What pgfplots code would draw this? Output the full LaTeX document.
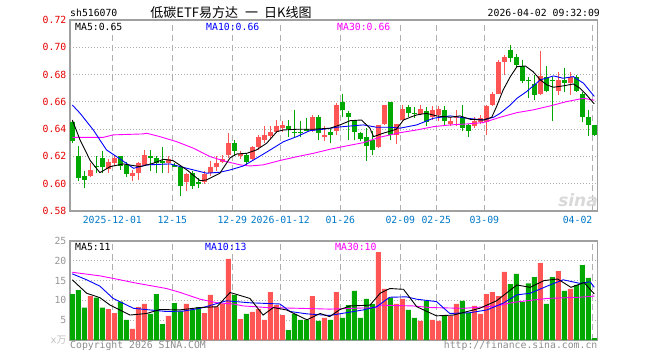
\documentclass[border=0pt]{standalone}
\usepackage{fontspec}
\setmainfont{DejaVu Sans Mono}
\newfontfamily\cjk{Noto Sans CJK SC}
\newfontfamily\wmfont{DejaVu Sans}
\usepackage{pgfplots}
\usepackage{pgfplotstable}
\pgfplotsset{compat=1.18}
\definecolor{kred}{RGB}{255,85,85}
\definecolor{kgreen}{RGB}{0,168,0}
\definecolor{gridc}{RGB}{175,175,175}
\definecolor{framec}{RGB}{160,160,160}
\definecolor{datec}{RGB}{0,120,200}
\definecolor{pricered}{RGB}{230,0,0}
\definecolor{mablue}{RGB}{0,0,255}
\definecolor{mamag}{RGB}{255,0,255}
\definecolor{labgray}{RGB}{150,150,150}
\newcommand{\lab}{\fontsize{9.8bp}{11bp}\selectfont}

% up (red) candles
\pgfplotstableread{
i O H L C
3 0.606 0.615 0.605 0.610
6 0.611 0.618 0.608 0.616
7 0.615 0.621 0.613 0.619
10 0.606 0.610 0.602 0.608
11 0.608 0.616 0.603 0.615
12 0.614 0.625 0.613 0.621
16 0.615 0.620 0.608 0.618
19 0.601 0.608 0.595 0.607
22 0.601 0.609 0.600 0.607
23 0.608 0.617 0.606 0.612
24 0.612 0.620 0.609 0.615
25 0.616 0.621 0.615 0.618
26 0.621 0.637 0.619 0.630
28 0.620 0.624 0.618 0.622
30 0.618 0.628 0.617 0.627
31 0.627 0.636 0.625 0.634
32 0.632 0.642 0.630 0.636
33 0.635 0.642 0.633 0.638
34 0.638 0.647 0.637 0.642
35 0.641 0.646 0.638 0.643
40 0.639 0.650 0.638 0.649
42 0.634 0.642 0.631 0.636
44 0.639 0.659 0.636 0.658
51 0.627 0.643 0.626 0.643
52 0.644 0.658 0.643 0.658
54 0.636 0.644 0.629 0.644
55 0.647 0.658 0.646 0.655
58 0.651 0.658 0.650 0.655
60 0.649 0.657 0.647 0.654
61 0.650 0.657 0.646 0.655
63 0.644 0.649 0.642 0.646
64 0.648 0.654 0.642 0.649
67 0.642 0.649 0.641 0.646
68 0.645 0.650 0.644 0.648
69 0.645 0.658 0.636 0.657
70 0.658 0.667 0.657 0.666
71 0.666 0.691 0.666 0.689
72 0.689 0.694 0.680 0.693
78 0.666 0.697 0.665 0.679
81 0.668 0.682 0.665 0.676
83 0.674 0.682 0.665 0.678
}\upT

% down (green) candles
\pgfplotstableread{
i O H L C
0 0.645 0.647 0.630 0.631
1 0.620 0.628 0.602 0.604
2 0.606 0.609 0.597 0.603
4 0.613 0.620 0.608 0.612
5 0.619 0.624 0.608 0.612
8 0.620 0.620 0.610 0.613
9 0.614 0.616 0.605 0.607
13 0.620 0.625 0.609 0.619
14 0.619 0.620 0.608 0.615
15 0.617 0.627 0.608 0.615
17 0.614 0.615 0.612 0.612
18 0.612 0.613 0.591 0.598
20 0.608 0.609 0.596 0.598
21 0.601 0.604 0.597 0.600
27 0.630 0.632 0.621 0.624
29 0.621 0.622 0.614 0.616
36 0.642 0.647 0.634 0.640
37 0.638 0.654 0.634 0.637
38 0.638 0.646 0.634 0.637
39 0.640 0.648 0.639 0.639
41 0.649 0.650 0.632 0.637
43 0.638 0.640 0.630 0.636
45 0.660 0.666 0.649 0.654
46 0.652 0.653 0.632 0.649
47 0.647 0.647 0.632 0.638
48 0.637 0.638 0.631 0.633
49 0.634 0.641 0.617 0.628
50 0.632 0.639 0.621 0.625
53 0.660 0.660 0.632 0.636
56 0.656 0.658 0.649 0.652
57 0.652 0.656 0.648 0.651
59 0.653 0.656 0.642 0.645
62 0.654 0.657 0.643 0.646
65 0.649 0.658 0.639 0.641
66 0.643 0.644 0.634 0.639
73 0.698 0.702 0.689 0.692
74 0.693 0.695 0.685 0.687
75 0.686 0.691 0.674 0.675
76 0.676 0.678 0.663 0.675
77 0.673 0.680 0.661 0.665
79 0.678 0.686 0.667 0.668
80 0.676 0.678 0.646 0.675
82 0.676 0.685 0.667 0.674
84 0.678 0.680 0.667 0.668
85 0.666 0.667 0.645 0.649
86 0.649 0.654 0.635 0.643
87 0.643 0.643 0.635 0.636
}\downT

% volumes (10k)
\pgfplotstableread{
i V
3 11.1
6 7.8
7 6.8
10 2.8
11 8.3
12 9.1
16 6.1
19 9.1
22 6.8
23 11.4
24 8.4
25 9.2
26 20.5
28 5.3
30 7.1
31 7.8
32 5.1
33 12.1
34 8.8
35 6.3
40 11.1
42 5.6
44 12.1
51 22.2
52 12.9
54 9.1
55 10.4
58 4.8
60 5.1
61 4.8
63 6.1
64 9.1
67 8.6
68 6.6
69 11.6
70 12.1
71 11.1
72 17.2
78 19.4
81 17.4
83 12.9
}\volUp
\pgfplotstableread{
i V
0 11.6
1 12.6
2 8.2
4 10.7
5 8.2
8 9.7
9 5.1
13 6.6
14 11.6
15 4.0
17 9.3
18 7.2
20 7.7
21 8.3
27 11.4
29 6.6
36 2.5
37 6.6
38 5.1
39 5.1
41 4.8
43 5.1
45 5.6
46 8.8
47 12.4
48 5.6
49 10.4
50 9.1
53 10.7
56 7.6
57 5.6
59 9.8
62 6.3
65 9.9
66 6.8
73 14.1
74 16.7
75 9.6
76 14.3
77 15.9
79 9.1
80 15.9
82 12.4
84 13.9
85 18.9
86 15.7
87 0.5
}\volDown

\begin{document}
\begin{tikzpicture}[x=1bp,y=1bp]
\useasboundingbox (0,0) rectangle (660,360);

\pgfplotsset{kbase/.style={
  anchor=south west, scale only axis, width=527.5bp,
  xmin=-0.383, xmax=87.53,
  axis line style={draw=framec, line width=1.3bp},
  tick style={draw=none}, major tick length=0pt,
  xtick={6.667,16.667,26.667,34.667,44.667,54.667,60.667,68.667,86.667},
  xmajorgrids, ymajorgrids,
  x grid style={gridc, line width=0.9bp, dash pattern=on 6bp off 4bp},
  y grid style={gridc, line width=0.9bp, dash pattern=on 1bp off 2bp},
}}

% ---------- price panel ----------
\begin{axis}[kbase, at={(70bp,149bp)}, height=191bp,
  ymin=0.58, ymax=0.72,
  ytick={0.58,0.6,0.62,0.64,0.66,0.68,0.7,0.72},
  yticklabels={0.58,0.60,0.62,0.64,0.66,0.68,0.70,0.72},
  xticklabels={2025-12-01,12-15,12-29,2026-01-12,01-26,02-09,02-25,03-09,\llap{04-02}},
  xticklabel style={font=\lab, text=datec, inner sep=0pt, anchor=north, yshift=-5.5bp},
  yticklabel style={font=\lab, text=pricered, inner sep=0pt, anchor=east, xshift=-3.5bp},
]
% wicks
\addplot[draw=none, mark=none, forget plot, error bars/.cd, y dir=plus, y explicit, error mark=none,
  error bar style={draw=kred, line width=1bp, solid}]
  table[x=i, y=L, y error expr=\thisrow{H}-\thisrow{L}] {\upT};
\addplot[draw=none, mark=none, forget plot, error bars/.cd, y dir=plus, y explicit, error mark=none,
  error bar style={draw=kgreen, line width=1bp, solid}]
  table[x=i, y=L, y error expr=\thisrow{H}-\thisrow{L}] {\downT};
% bodies
\addplot[draw=none, mark=none, forget plot, error bars/.cd, y dir=plus, y explicit, error mark=none,
  error bar style={draw=kred, line width=4.6bp, solid}]
  table[x=i, y=O, y error expr={max(\thisrow{C}-\thisrow{O},0.0008)}] {\upT};
\addplot[draw=none, mark=none, forget plot, error bars/.cd, y dir=plus, y explicit, error mark=none,
  error bar style={draw=kgreen, line width=4.6bp, solid}]
  table[x=i, y=C, y error expr={max(\thisrow{O}-\thisrow{C},0.0008)}] {\downT};
% MA30
\addplot[mamag, line width=0.9bp, mark=none] coordinates {
(0,0.634)(5.2,0.634)(6.8,0.6358)(11.8,0.6365)(12.4,0.637)(14.6,0.6345)(17.4,0.6308)
(20.2,0.626)(23,0.6198)(25.7,0.6162)(28,0.6138)(29.6,0.613)(31.8,0.6138)(34.6,0.617)
(37.4,0.6198)(40.2,0.6223)(43,0.6253)(45.7,0.6277)(48.5,0.6301)(51.3,0.6341)(54.6,0.6374)
(57.4,0.6394)(60.2,0.6418)(63,0.6431)(65.7,0.6438)(68.5,0.6448)(71.3,0.6487)(74.1,0.6521)
(76.8,0.6541)(79.6,0.657)(82.4,0.6602)(85.2,0.6626)(87,0.6612)};
% MA10
\addplot[mablue, line width=0.9bp, mark=none] coordinates {
(0,0.6577)(1.3,0.6516)(3.5,0.6394)(5.7,0.6248)(8,0.618)(10.2,0.6113)(12.4,0.6138)
(16.3,0.6145)(19.1,0.6113)(22.4,0.6077)(24.6,0.6084)(26.3,0.6101)(28.5,0.613)(30.7,0.6187)
(33,0.6248)(35.2,0.6308)(37.4,0.6345)(39.6,0.6389)(41.8,0.6399)(44.1,0.6414)(46.3,0.6423)
(48.5,0.6431)(50.7,0.6414)(53,0.6414)(54.6,0.6407)(57.4,0.6431)(60.2,0.648)(63,0.6497)
(65.7,0.648)(68.5,0.6467)(70.2,0.6487)(71.3,0.6516)(73,0.6577)(74.1,0.6626)(75.7,0.6675)
(78,0.6761)(80.2,0.679)(81.8,0.6773)(83.5,0.6785)(85.2,0.6736)(86.8,0.665)(87,0.664)};
% MA5
\addplot[black, line width=0.9bp, mark=none] coordinates {
(0,0.6467)(1.3,0.632)(3,0.6169)(4.6,0.6081)(6.3,0.6125)(8.5,0.6145)(11.3,0.6125)
(13.5,0.615)(15.2,0.6179)(16.8,0.6169)(19.1,0.6101)(21.3,0.6022)(22.4,0.6028)(24.6,0.6077)
(26.3,0.619)(27.4,0.6218)(29.1,0.6223)(30.7,0.6248)(32.4,0.6297)(34.1,0.6382)(35.2,0.6394)
(37.4,0.6399)(40.2,0.6399)(43,0.6407)(44.6,0.6431)(46.3,0.6462)(48.2,0.6467)(49.6,0.6407)
(50.2,0.6345)(51.8,0.637)(54,0.6399)(55.2,0.6467)(56.3,0.6487)(57.4,0.6504)(59,0.6516)
(60.7,0.6497)(63,0.6487)(64.6,0.6497)(66.3,0.6472)(68.5,0.6467)(69.9,0.6487)(70.7,0.6565)
(71.8,0.6687)(73,0.6785)(74.1,0.6858)(75.5,0.6863)(76.8,0.6821)(78,0.6761)(79.1,0.6724)
(80.2,0.6707)(81.8,0.6717)(83.5,0.6731)(84.6,0.670)(85.7,0.6651)(86.8,0.6594)(87,0.6585)};
\end{axis}

% ---------- volume panel ----------
\begin{axis}[kbase, at={(70bp,20bp)}, height=99bp,
  ymin=0, ymax=25,
  ytick={0,5,10,15,20,25},
  yticklabels={{\color{gray!50}x\cjk 万},5,10,15,20,25},
  xticklabels={},
  yticklabel style={font=\lab, text=labgray, inner sep=0pt, anchor=east, xshift=-3.5bp},
]
\addplot[ybar, bar width=5bp, bar shift=0pt, fill=kred, draw=none] table[x=i, y=V] {\volUp};
\addplot[ybar, bar width=5bp, bar shift=0pt, fill=kgreen, draw=none] table[x=i, y=V] {\volDown};
\addplot[mamag, line width=0.9bp, mark=none] coordinates {
(0,17.1)(4.6,16.2)(7,15.5)(10.2,14.5)(15.7,13.0)(18,12.0)(21.3,10.3)(24.1,9.4)(26.8,9.1)
(28.5,8.6)(32.4,8.2)(37.9,8.0)(42.9,7.8)(50.7,8.2)(51.3,8.8)(56.8,8.6)(59.6,8.2)(65.2,8.0)
(70.7,8.6)(73.5,9.5)(79.1,10.5)(84.6,10.8)(87,11.1)};
\addplot[mablue, line width=0.9bp, mark=none] coordinates {
(0,16.7)(2.4,15.2)(4.6,13.6)(6.8,10.5)(10.2,8.0)(12.9,7.6)(15.7,7.2)(18.5,7.3)(21.3,8.0)
(25.7,9.9)(29.6,9.4)(34.6,9.1)(36.3,7.2)(39.1,6.6)(42.9,6.2)(48.5,7.6)(50.7,8.4)(52.9,10.8)
(55.7,10.9)(57.4,10.3)(60.7,9.7)(62.9,6.7)(66.3,6.9)(69.1,7.6)(71.8,9.3)(74.1,11.4)(76.3,11.8)
(79.6,13.9)(81.8,15.2)(84.6,14.3)(86.3,14.7)(87,13.3)};
\addplot[black, line width=0.9bp, mark=none] coordinates {
(0,15.2)(2.4,11.8)(4.6,10.7)(6.3,8.8)(9.6,6.3)(12.4,6.7)(14.6,7.7)(17.9,7.6)(21.3,8.2)
(24.1,8.4)(26.3,12.0)(29.6,10.5)(31.8,6.3)(33.5,8.2)(35.7,7.6)(39.1,5.1)(41.3,6.7)(42.9,5.9)
(44.6,7.7)(46.3,8.6)(49.6,8.8)(51.3,11.8)(52.9,13.0)(55.2,12.8)(57.4,8.4)(60.7,6.1)(63.5,6.3)
(67.9,8.0)(70.7,9.9)(74.1,13.9)(76.3,13.3)(78.6,15.0)(80.9,15.4)(83.1,13.3)(85.3,14.5)(87,11.6)};
\end{axis}

% ---------- texts ----------
\node[anchor=west, inner sep=0pt] at (70bp,347bp) {\lab sh516070};
\node[inner sep=0pt] at (231bp,347bp) {\cjk\fontsize{13bp}{15bp}\selectfont 低碳ETF易方达\hspace{7bp}一\hspace{6bp}日K线图};
\node[anchor=east, inner sep=0pt] at (600bp,347bp) {\lab 2026-04-02 09:32:09};

\node[anchor=west, inner sep=0pt] at (75bp,333bp) {\lab MA5:0.65};
\node[anchor=west, inner sep=0pt, text=mablue] at (206bp,333bp) {\lab MA10:0.66};
\node[anchor=west, inner sep=0pt, text=mamag] at (337bp,333bp) {\lab MA30:0.66};

\node[anchor=west, inner sep=0pt] at (75bp,113.5bp) {\lab MA5:11};
\node[anchor=west, inner sep=0pt, text=mablue] at (205bp,113.5bp) {\lab MA10:13};
\node[anchor=west, inner sep=0pt, text=mamag] at (335bp,113.5bp) {\lab MA30:10};

\node[anchor=west, inner sep=0pt, text=gray!90] at (70bp,14.5bp) {\lab Copyright 2026 SINA.COM};
\node[anchor=east, inner sep=0pt, text=gray!90] at (597.5bp,14.5bp) {\lab http://finance.sina.com.cn};

\node[inner sep=0pt, text=gray!30] at (578bp,160bp) {\wmfont\bfseries\itshape\fontsize{17bp}{17bp}\selectfont sina};
\end{tikzpicture}
\end{document}
